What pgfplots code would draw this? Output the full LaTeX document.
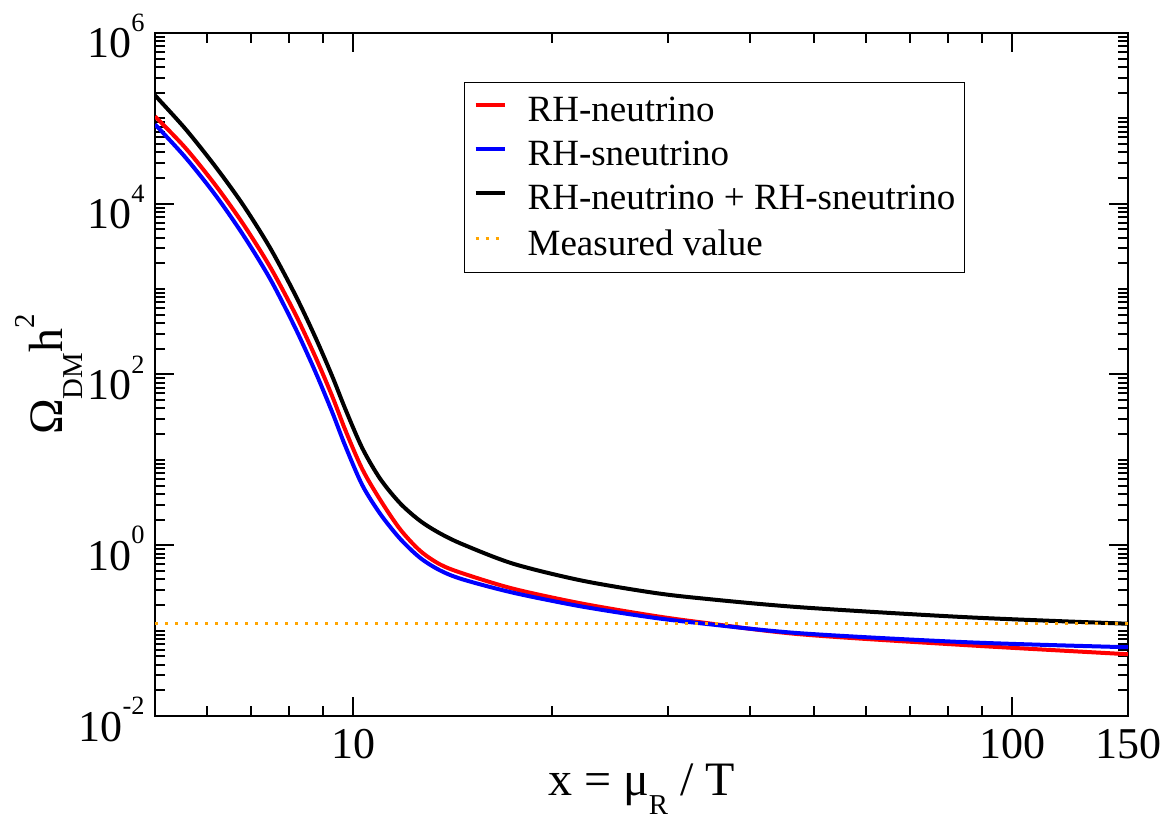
\documentclass[border=0pt]{standalone}
\usepackage{fontspec}
\setmainfont{Liberation Serif}
\usepackage{graphicx}
\usepackage{pgfplots}
\pgfplotsset{compat=1.18}
\definecolor{gorange}{RGB}{255,165,0}
\newcommand\gsup[1]{\raisebox{0.6em}{\scalebox{0.6}{#1}}}
\newcommand\gsub[1]{\raisebox{-0.4em}{\scalebox{0.6}{#1}}}
\begin{document}
\begin{tikzpicture}
\useasboundingbox (0,0) rectangle (582.5pt,409.5pt);
\begin{axis}[
  at={(77.5pt,51.5pt)}, anchor=south west,
  scale only axis, width=486.5pt, height=341.5pt,
  xmode=log, ymode=log,
  xmin=5, xmax=150, ymin=1e-2, ymax=1e6,
  xtick={10,100,150}, xticklabels={10,100,150},
  minor xtick={6,7,8,9,20,30,40,50,60,70,80,90},
  ytick={1e-2,1,1e2,1e4,1e6},
  yticklabels={10\gsup{-2},10\gsup{0},10\gsup{2},10\gsup{4},10\gsup{6}},
  minor ytick={2e-2,3e-2,4e-2,5e-2,6e-2,7e-2,8e-2,9e-2,1e-1,2e-1,3e-1,4e-1,5e-1,6e-1,7e-1,8e-1,9e-1,
    2,3,4,5,6,7,8,9,10,20,30,40,50,60,70,80,90,200,300,400,500,600,700,800,900,
    1e3,2e3,3e3,4e3,5e3,6e3,7e3,8e3,9e3,2e4,3e4,4e4,5e4,6e4,7e4,8e4,9e4,
    1e5,2e5,3e5,4e5,5e5,6e5,7e5,8e5,9e5},
  major tick length=9.5pt, minor tick length=5pt,
  tick style={line width=1pt, black},
  axis line style={line width=1.2pt},
  tick label style={font=\fontsize{22}{26}\selectfont},
  xticklabel style={anchor=base, yshift=-21pt, inner sep=0pt},
  yticklabel style={anchor=base east, xshift=-5pt, yshift=-12.5pt, inner sep=0pt},
  xlabel={x = μ\gsub{R} / T},
  xlabel style={at={(axis description cs:0.5,0)}, anchor=base, yshift=-39.5pt, font=\fontsize{24}{28}\selectfont},
  ylabel={Ω\gsub{DM}h\gsup{2}},
  ylabel style={at={(axis description cs:-0.0946,0.5)}, anchor=base, font=\fontsize{24}{28}\selectfont},
  legend style={at={(axis description cs:0.8325,0.928)}, anchor=north east,
    draw=black, line width=0.6pt, font=\fontsize{18.5}{21}\selectfont,
    inner xsep=4.5pt, inner ysep=7pt, row sep=8.4pt, column sep=10.5pt,
    nodes={inner sep=0pt}},
  legend cell align=left,
  legend image code/.code={\draw[#1] (0pt,0.3em) -- (14.5pt,0.3em);},
]
\addplot[red, line width=2pt, smooth] coordinates {
(5.0,1.055e5) (5.560,4.514e4) (6.174,1.660e4) (6.809,5.754e3) (7.482,1.804e3)
(8.165,510.9) (8.757,161.6) (9.293,55.26) (9.724,22.39) (10.320,7.783)
(10.989,3.392) (11.785,1.531) (12.638,0.8576) (13.555,0.5943) (14.686,0.4663)
(17.494,0.3095) (22.105,0.2093) (28.224,0.1515) (33.62,0.1254) (47.68,0.0907)
(85.45,0.0675) (150,0.0529)};
\addlegendentry{RH-neutrino}
\addplot[blue, line width=2pt, smooth] coordinates {
(5.0,8.507e4) (5.560,3.494e4) (6.174,1.268e4) (6.809,4.277e3) (7.482,1.306e3)
(8.165,350.4) (8.757,107.8) (9.293,35.89) (9.724,14.55) (10.320,5.055)
(10.989,2.326) (11.785,1.185) (12.638,0.7099) (13.555,0.5056) (14.686,0.3966)
(17.494,0.2779) (22.105,0.1931) (28.224,0.1435) (33.62,0.1221) (47.68,0.0932)
(85.45,0.0731) (150,0.0639)};
\addlegendentry{RH-sneutrino}
\addplot[black, line width=2pt, smooth] coordinates {
(5.0,1.859e5) (5.560,7.534e4) (6.174,2.734e4) (6.809,9.603e3) (7.482,3.012e3)
(8.165,853.1) (8.757,273.4) (9.293,94.8) (9.724,39.45) (10.320,13.71)
(10.989,5.975) (11.785,3.086) (12.638,1.925) (13.555,1.371) (14.686,1.019)
(17.494,0.6072) (22.105,0.3892) (28.224,0.2816) (33.62,0.2395) (47.68,0.1879)
(85.45,0.1435) (150,0.1204)};
\addlegendentry{RH-neutrino + RH-sneutrino}
\addplot[gorange, line width=1.5pt, dash pattern=on 1.5pt off 3.5pt] coordinates {(5,0.12) (150,0.12)};
\addlegendentry{Measured value}
\end{axis}
\end{tikzpicture}
\end{document}
